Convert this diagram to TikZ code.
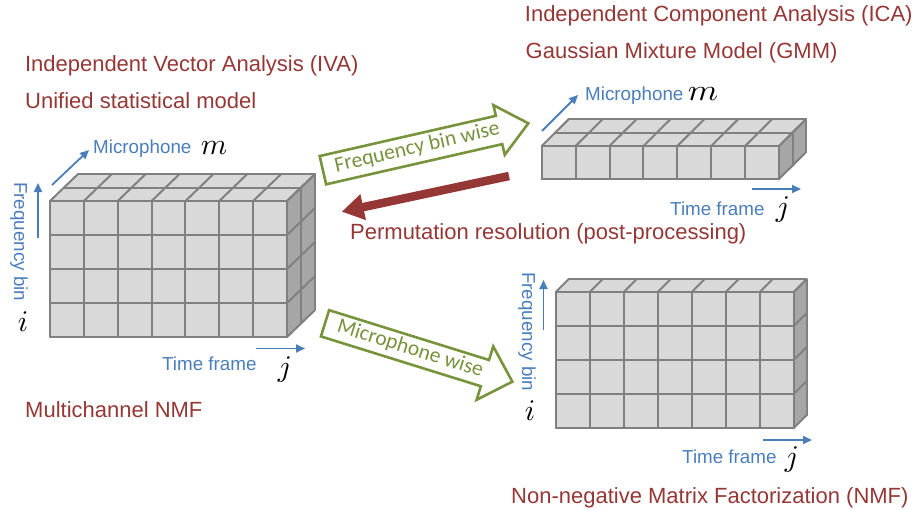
\documentclass[tikz,border=0pt]{standalone}
\usepackage{fontspec}
\setmainfont{Liberation Sans}
\newfontfamily\greenfont{Carlito}
\usetikzlibrary{arrows.meta}
\definecolor{redtxt}{HTML}{953735}
\definecolor{bluetxt}{HTML}{4A7EBB}
\definecolor{greenarr}{HTML}{77933C}
\definecolor{cellfill}{HTML}{D9D9D9}
\definecolor{sidefill}{HTML}{A6A6A6}
\definecolor{cellline}{HTML}{808080}
\tikzset{
  redlabel/.style={text=redtxt, inner sep=0pt, anchor=base west, font=\fontsize{22}{26}\selectfont},
  bluelabel/.style={text=bluetxt, inner sep=0pt, anchor=base west, font=\fontsize{18.8}{22}\selectfont},
  mathlabel/.style={inner sep=0pt, anchor=base, font=\fontsize{10}{12}\selectfont, scale=3},
  greenlabel/.style={text=greenarr, inner sep=0pt, font=\greenfont\fontsize{21.6}{24}\selectfont},
  bluearrow/.style={draw=bluetxt, line width=1.8pt, -{Triangle[length=9pt,width=8pt]}},
  greenarrow/.style={draw=greenarr, line width=2.6pt, line join=miter, fill=white},
  redarrow/.style={draw=redtxt, line width=8.5pt, -{Triangle[length=22pt,width=25pt]}},
  cellgrid/.style={draw=cellline, line width=2pt, line join=round, line cap=round},
}
% #1,#2 top-left of front face; #3 cols; #4 rows; #5 cell width; #6 cell height;
% #7 depth layers; #8 depth step x (right); #9 depth step y (upward)
\newcommand{\cellblock}[9]{%
  \pgfmathsetmacro\cbW{#3*#5}%
  \pgfmathsetmacro\cbH{#4*#6}%
  \pgfmathsetmacro\cbDX{#7*#8}%
  \pgfmathsetmacro\cbDY{#7*#9}%
  \fill[cellfill] (#1,#2) rectangle ++(\cbW,\cbH);
  \fill[cellfill] (#1,#2) -- ++(\cbW,0) -- ++(\cbDX,-\cbDY) -- ++(-\cbW,0) -- cycle;
  \fill[sidefill] ({#1+\cbW},#2) -- ++(\cbDX,-\cbDY) -- ++(0,\cbH) -- ++(-\cbDX,\cbDY) -- cycle;
  \draw[cellgrid] (#1,#2) rectangle ++(\cbW,\cbH);
  \foreach \k in {1,...,#3} \draw[cellgrid] ({#1+\k*#5},#2) -- ++(0,\cbH);
  \foreach \r in {1,...,#4} \draw[cellgrid] (#1,{#2+\r*#6}) -- ++(\cbW,0);
  \foreach \k in {0,...,#3} \draw[cellgrid] ({#1+\k*#5},#2) -- ++(\cbDX,-\cbDY);
  \foreach \l in {1,...,#7} \draw[cellgrid] ({#1+\l*#8},{#2-\l*#9}) -- ++(\cbW,0);
  \foreach \r in {0,...,#4} \draw[cellgrid] ({#1+\cbW},{#2+\r*#6}) -- ++(\cbDX,-\cbDY);
  \foreach \l in {1,...,#7} \draw[cellgrid] ({#1+\cbW+\l*#8},{#2-\l*#9}) -- ++(0,\cbH);
}
\begin{document}
\begin{tikzpicture}[x=1pt,y=-1pt]
\useasboundingbox (0,0) rectangle (917,509);

% ---------- blocks ----------
\cellblock{50}{201}{7}{4}{33.86}{34}{2}{14}{13.5}
\cellblock{541.7}{146}{7}{1}{33.9}{33}{2}{13.5}{13.4}
\cellblock{556}{291.7}{7}{4}{34}{34}{1}{12.5}{12.4}

% ---------- red captions ----------
\node[redlabel] (ica)  at (524.7,21.7) {Independent Component Analysis (ICA)};
\node[redlabel] (gmm)  at (525.5,58.3) {Gaussian Mixture Model (GMM)};
\node[redlabel] (iva)  at (24.8,71) {Independent Vector Analysis (IVA)};
\node[redlabel] (usm)  at (25,108.3) {Unified statistical model};
\node[redlabel] (perm) at (350,239.5) {Permutation resolution (post-processing)};
\node[redlabel] (mnmf) at (25,417) {Multichannel NMF};
\node[redlabel] (nmf)  at (511,503.5) {Non-negative Matrix Factorization (NMF)};

% ---------- left block axes ----------
\coordinate (lmA) at (52,185);   \coordinate (lmB) at (89,150);
\draw[bluearrow] (lmA) -- (lmB);
\node[bluelabel] (lmic) at (93,153.5) {Microphone};
\node[mathlabel] (lm) at (214,154) {$m$};
\coordinate (lfA) at (38,238);   \coordinate (lfB) at (38,183);
\draw[bluearrow] (lfA) -- (lfB);
\node[bluelabel, rotate=-90] (lfreq) at (14,182) {Frequency bin};
\node[mathlabel] (li) at (23,331.7) {$i$};
\coordinate (ltA) at (256,348.5); \coordinate (ltB) at (305,348.5);
\draw[bluearrow] (ltA) -- (ltB);
\node[bluelabel] (ltime) at (162,370.7) {Time frame};
\node[mathlabel] (lj) at (285,376) {$j$};

% ---------- top-right block axes ----------
\coordinate (tmA) at (542,131);  \coordinate (tmB) at (578,95);
\draw[bluearrow] (tmA) -- (tmB);
\node[bluelabel] (tmic) at (585,100) {Microphone};
\node[mathlabel, xscale=1.15] (tm) at (703,100) {$m$};
\coordinate (ttA) at (752,189);  \coordinate (ttB) at (801,189);
\draw[bluearrow] (ttA) -- (ttB);
\node[bluelabel] (ttime) at (670,215.3) {Time frame};
\node[mathlabel] (tj) at (783,216) {$j$};

% ---------- bottom-right block axes ----------
\coordinate (bfA) at (543.5,330); \coordinate (bfB) at (543.5,280);
\draw[bluearrow] (bfA) -- (bfB);
\node[bluelabel, rotate=-90] (bfreq) at (522,272) {Frequency bin};
\node[mathlabel] (bi) at (530,420) {$i$};
\coordinate (btA) at (763,440);  \coordinate (btB) at (812,440);
\draw[bluearrow] (btA) -- (btB);
\node[bluelabel] (btime) at (682,463.3) {Time frame};
\node[mathlabel] (bj) at (792,466) {$j$};

% ---------- green block arrows ----------
\begin{scope}[shift={(322.9,170.2)}, rotate=12.86]
  \draw[greenarrow] (0,14.5) -- (180.7,14.5) -- (180.7,25.5) -- (210.7,0)
        -- (180.7,-25.5) -- (180.7,-14.5) -- (0,-14.5) -- cycle;
  \node[greenlabel, transform shape] (fbw) at (97,-1) {Frequency bin wise};
\end{scope}
\begin{scope}[shift={(325,323.3)}, rotate=-17.3]
  \draw[greenarrow] (0,13.75) -- (167.5,13.75) -- (167.5,28) -- (196.2,0)
        -- (167.5,-28) -- (167.5,-13.75) -- (0,-13.75) -- cycle;
  \node[greenlabel, transform shape] (mw) at (89,-1) {Microphone wise};
\end{scope}

% ---------- red arrow ----------
\coordinate (prA) at (509,176);  \coordinate (prB) at (341.7,211.7);
\draw[redarrow] (prA) -- (prB);
\end{tikzpicture}
\end{document}
